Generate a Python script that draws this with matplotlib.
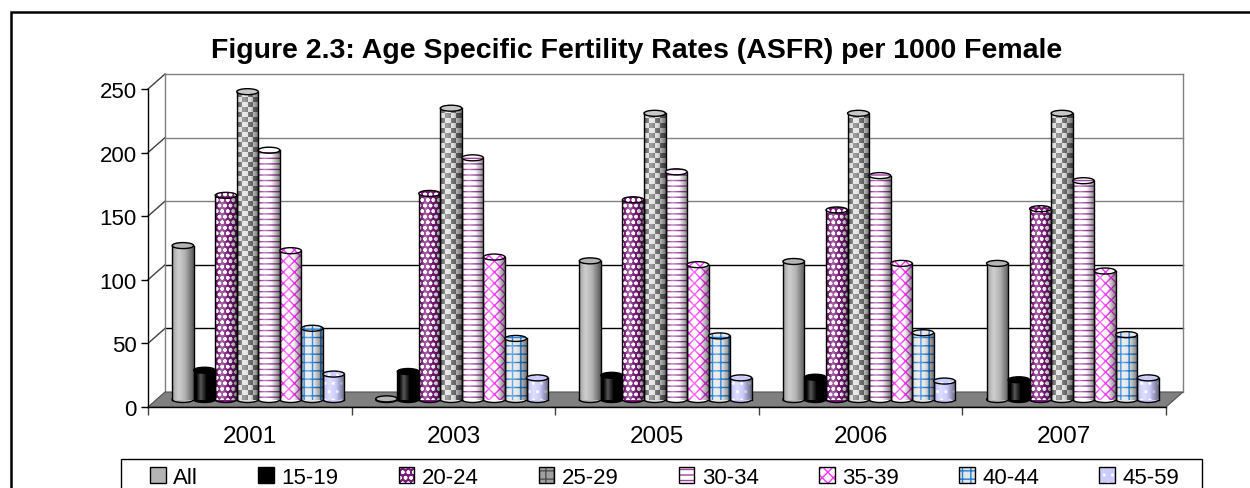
import numpy as np
import matplotlib
matplotlib.use('Agg')
import matplotlib.pyplot as plt
from matplotlib.patches import Ellipse, Polygon, Patch, Rectangle
from matplotlib.legend_handler import HandlerTuple

plt.rcParams['font.family'] = ['Liberation Sans', 'DejaVu Sans']
plt.rcParams['hatch.linewidth'] = 1.0

# data
years = ['2001', '2003', '2005', '2006', '2007']
age_groups = ['All', '15-19', '20-24', '25-29', '30-34', '35-39', '40-44', '45-59']
asfr_all = [121, 0.5, 109, 108.5, 107]
asfr_15_19 = [23, 22, 19, 17.5, 15.5]
asfr_20_24 = [160.5, 162, 157, 149, 150]
asfr_25_29 = [242, 229, 225, 225, 225]
asfr_30_34 = [196, 190, 179, 176, 172]
asfr_35_39 = [117, 112, 106, 107, 101]
asfr_40_44 = [56, 48, 50, 52.5, 51]
asfr_45_59 = [20, 17, 17, 14.5, 17]
series = [asfr_all, asfr_15_19, asfr_20_24, asfr_25_29,
          asfr_30_34, asfr_35_39, asfr_40_44, asfr_45_59]

# fill styles per series: face colour, hatch colour, hatch
styles = [
    ('#b4b4b4', '#b4b4b4', None),
    ('#000000', '#000000', None),
    ('#7b1a7b', 'white', 'ooo'),
    ('#dddddd', '#777777', 'checker'),
    ('white', '#a040a0', '---'),
    ('white', '#ff33ff', 'xxx'),
    ('#e6e6e6', '#1f7fd8', '++'),
    ('#ccccff', 'white', '..'),
]

W, H = 1250, 489
fig = plt.figure(figsize=(W / 100, H / 100), dpi=100)
ax = fig.add_axes([148 / W, (H - 408) / H, 1018 / W, 318 / H])
ax.set_xlim(0, 5)
ax.set_ylim(0, 250)

px_x = 1018 / 5      # pixels per category unit
px_y = 318 / 250     # pixels per value unit
DX = 17 / px_x       # depth offset of back wall
DY = 15 / px_y
BW = 0.1058          # bar width
EH = 6 / px_y        # ellipse height of cylinder caps

# back wall, side wall and floor
for v in range(50, 251, 50):
    col = '#808080' if v > 100 else 'black'
    ax.plot([DX, 5 + DX], [v + DY, v + DY], color=col, lw=1, clip_on=False, zorder=1)
    ax.plot([0, DX], [v, v + DY], color='#404040', lw=1, clip_on=False, zorder=1)
ax.plot([DX, DX], [DY, 250 + DY], color='#808080', lw=1, clip_on=False, zorder=1)
ax.plot([5 + DX, 5 + DX], [DY, 250 + DY], color='#808080', lw=1, clip_on=False, zorder=1)
ax.add_patch(Polygon([(0, 0), (5, 0), (5 + DX, DY), (DX, DY)], closed=True,
                     fc='#808080', ec='#505050', lw=0.8, clip_on=False, zorder=2))

# cylinder shading gradient
t = np.linspace(0, 1, 40)
b = np.where(t < 0.3, -0.2 + 0.55 * t / 0.3, 0.35 - 0.85 * (t - 0.3) / 0.7)
shade = np.zeros((1, 40, 4))
shade[0, :, :3] = (b > 0)[:, None] * 1.0
shade[0, :, 3] = np.abs(b)

centers = np.arange(len(years)) + 0.5
for i, vals in enumerate(series):
    fc, hc, hatch = styles[i]
    xs = centers + (i - 3.5) * BW + DX / 2
    base = DY / 2
    real_hatch = None if hatch in (None, 'checker') else hatch
    # bottom cap
    for x in xs:
        ax.add_patch(Ellipse((x, base), BW, EH, fc=fc, ec='black', lw=1, clip_on=False, zorder=4))
    body = ax.bar(xs, vals, width=BW, bottom=base, color=fc, edgecolor=hc,
                  hatch=real_hatch, linewidth=0, zorder=5, clip_on=False)
    for rect, x, v in zip(body.patches, xs, vals):
        x0, x1 = x - BW / 2, x + BW / 2
        if hatch == 'checker':
            n = max(2, int(round(v * px_y / 5)))
            chk = (np.add.outer(np.arange(n), np.arange(4)) % 2)[:, :, None]
            img = np.where(chk == 1, np.array([0.45, 0.45, 0.45]), np.array([0.88, 0.88, 0.88]))
            im = ax.imshow(img, extent=[x0, x1, base, base + v], origin='lower',
                           aspect='auto', interpolation='nearest', zorder=5.5)
            im.set_clip_path(rect)
        im = ax.imshow(shade, extent=[x0, x1, base, base + v], aspect='auto',
                       interpolation='bilinear', zorder=6)
        im.set_clip_path(rect)
        ax.plot([x0, x0], [base, base + v], color='black', lw=1, zorder=7, clip_on=False)
        ax.plot([x1, x1], [base, base + v], color='black', lw=1, zorder=7, clip_on=False)
        top_fc = '#c8c8c8' if hatch == 'checker' else fc
        ax.add_patch(Ellipse((x, base + v), BW, EH, fc=top_fc, ec=hc, hatch=real_hatch,
                             lw=0, zorder=8, clip_on=False))
        ax.add_patch(Ellipse((x, base + v), BW, EH, fill=False, ec='black', lw=1,
                             zorder=9, clip_on=False))

ax.set_xlim(0, 5)
ax.set_ylim(0, 250)
ax.set_aspect('auto')

# front axes
for s in ['top', 'right']:
    ax.spines[s].set_visible(False)
for s in ['left', 'bottom']:
    ax.spines[s].set_color('black')
    ax.spines[s].set_linewidth(1)
ax.set_yticks(range(0, 251, 50))
ax.tick_params(axis='y', length=5, width=1, pad=3, labelsize=16, direction='out')
ax.set_xticks(np.arange(6))
ax.set_xticklabels([''] * 6)
ax.tick_params(axis='x', which='major', length=6, width=1, direction='out', color='#404040')
ax.set_xticks(centers, minor=True)
ax.set_xticklabels(years, minor=True)
ax.tick_params(axis='x', which='minor', length=0, pad=13, labelsize=17.5)

# title
fig.text(636.5 / W, 1 - 58.3 / H, 'Figure 2.3: Age Specific Fertility Rates (ASFR) per 1000 Female',
         ha='center', va='baseline', fontsize=20.5, fontweight='bold')

# legend
handles = []
for fc, hc, hatch in styles:
    if hatch == 'checker':
        p = Patch(fc='#a0a0a0', ec='#505050', hatch='++', lw=0)
    else:
        p = Patch(fc=fc, ec=hc, hatch=hatch, lw=0)
    handles.append((p, Patch(fill=False, ec='black', lw=1)))
fig.legend(handles, age_groups, handler_map={tuple: HandlerTuple(ndivide=1, pad=0)},
           loc='upper left', bbox_to_anchor=(150 / W, 1 - 468 / H), frameon=False,
           ncol=8, fontsize=16, handlelength=0.7, handleheight=0.7,
           handletextpad=0.35, columnspacing=2.7, borderpad=0, borderaxespad=0)
fig.add_artist(Rectangle((121 / W, -0.1), (1202 - 121) / W, (H - 460) / H + 0.1,
                         transform=fig.transFigure, fill=False, ec='black', lw=1))

# outer frame
fig.add_artist(Rectangle((11 / W, -0.1), 1.5, 1 - 13 / H + 0.1,
                         transform=fig.transFigure, fill=False, ec='black', lw=1.8))

fig.savefig('out.png', dpi=100)
